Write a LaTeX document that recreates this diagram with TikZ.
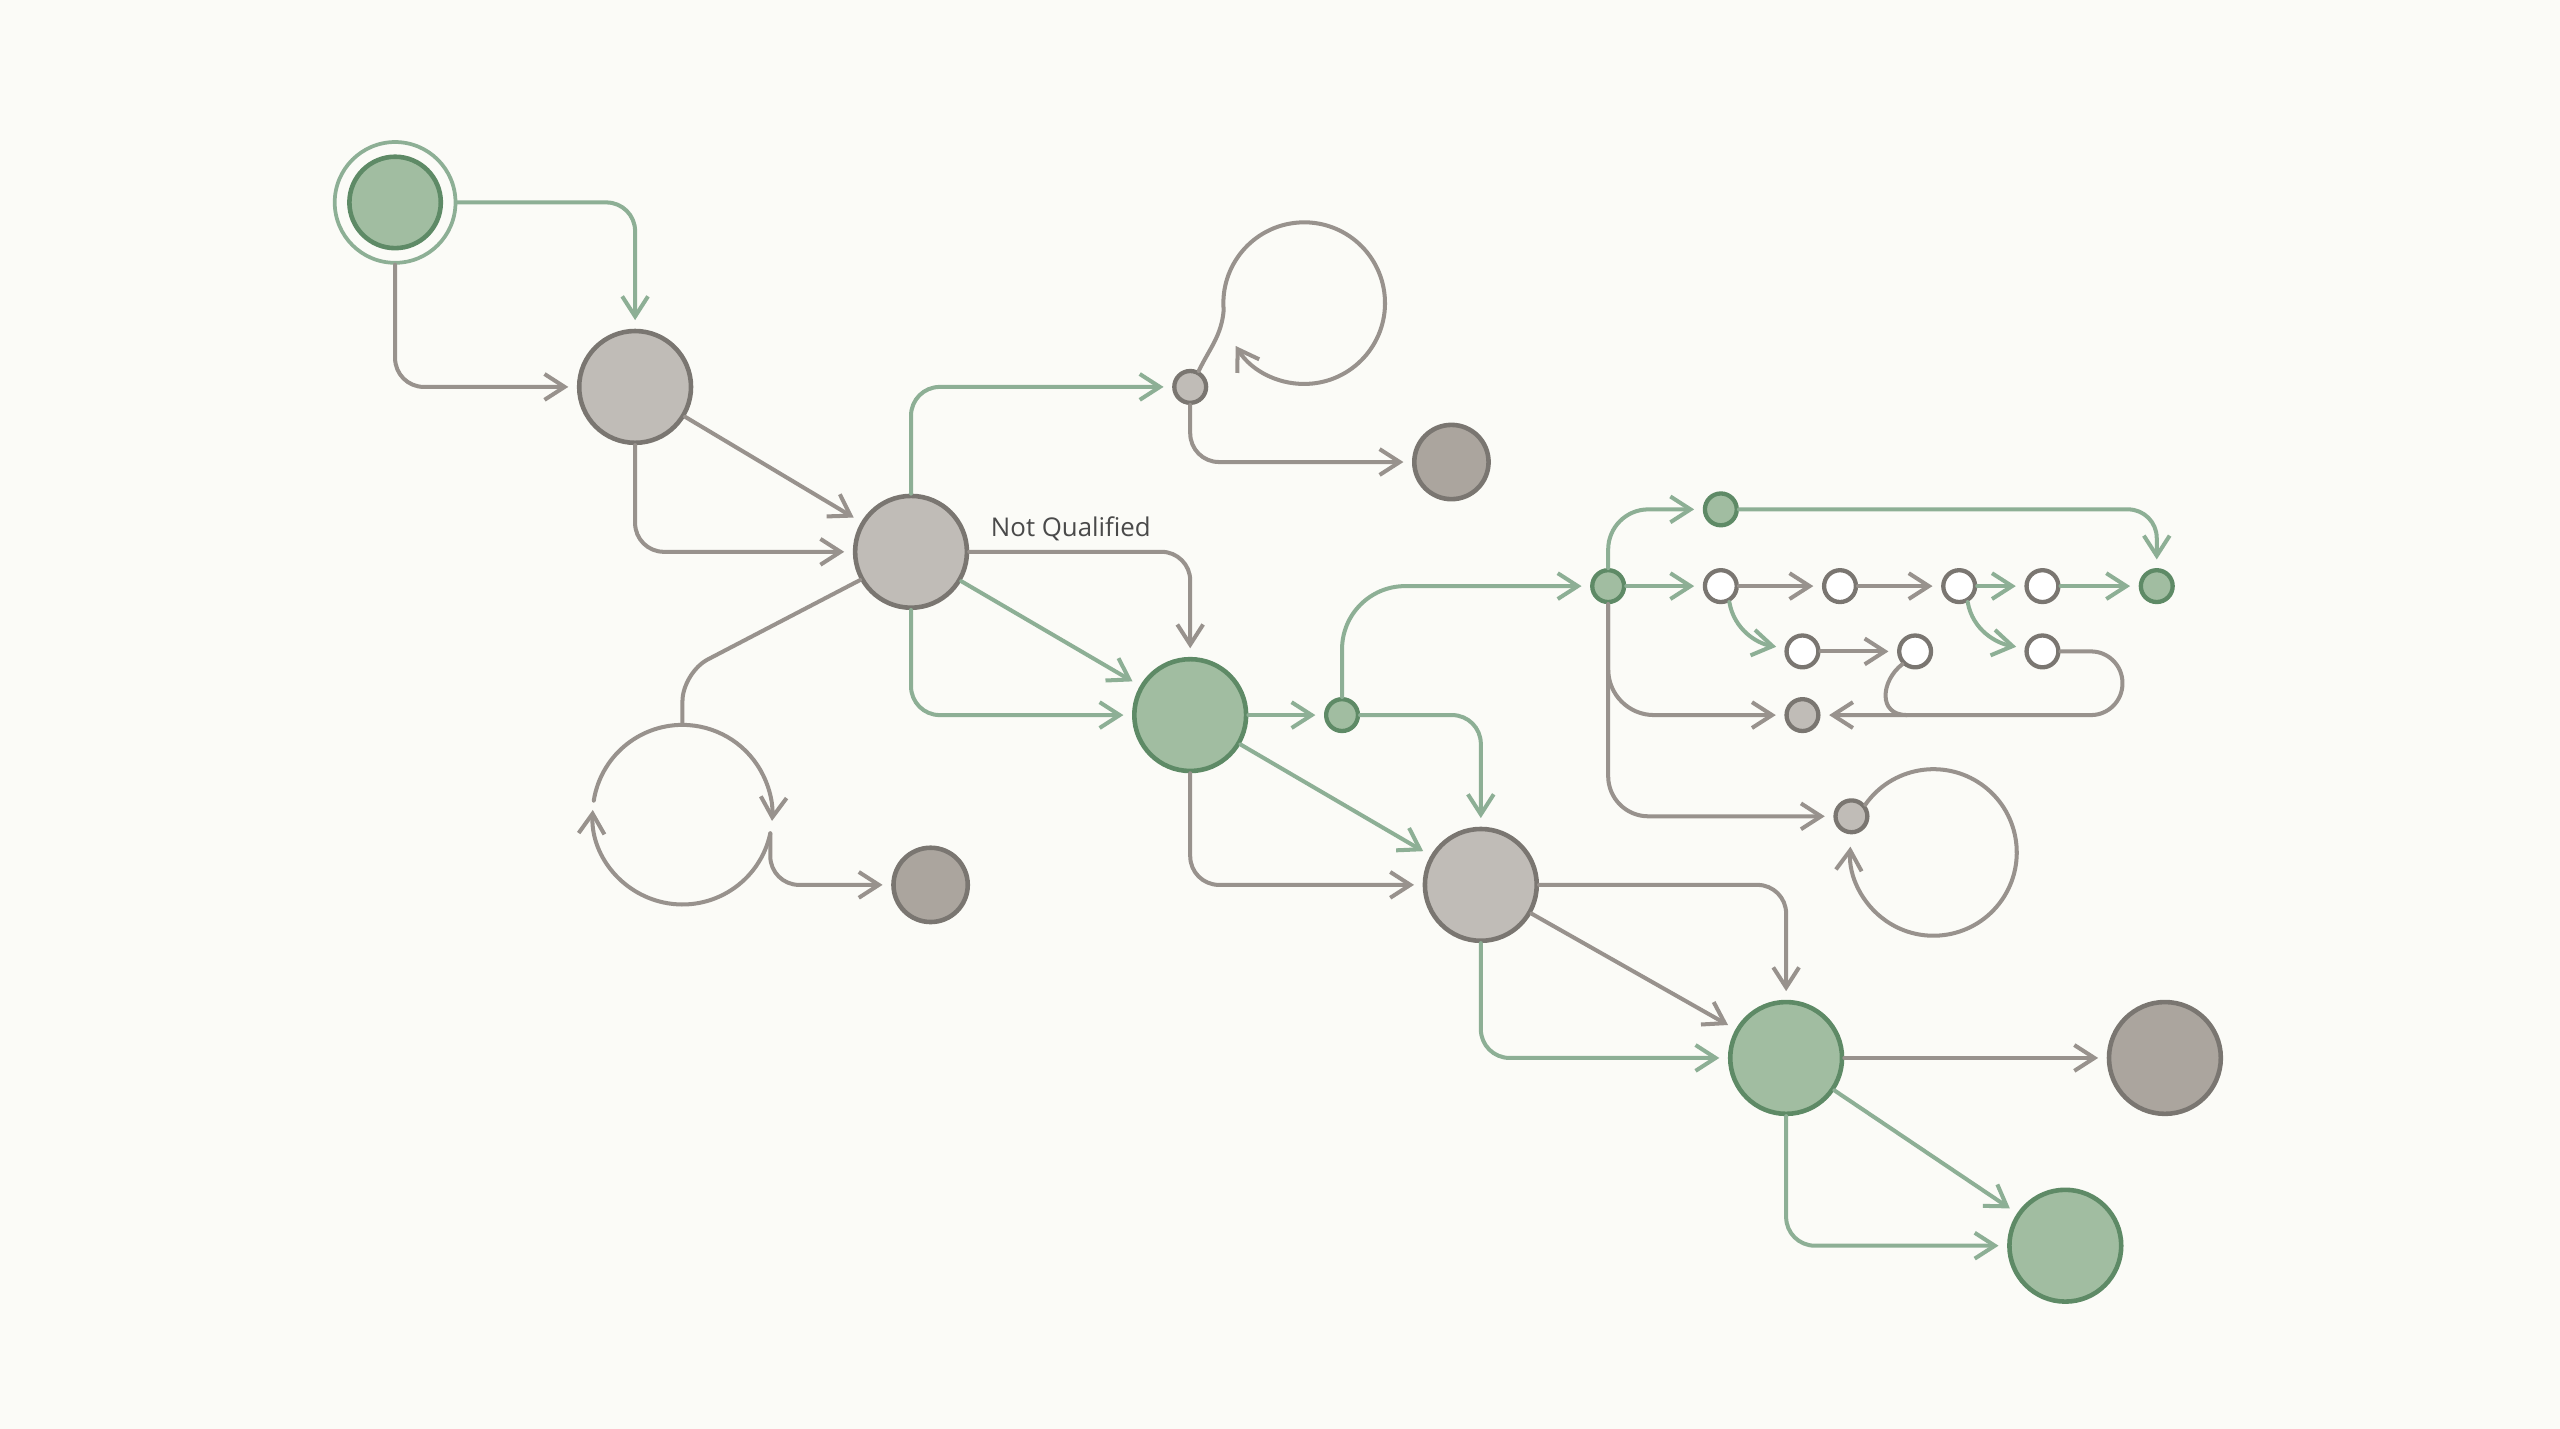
\documentclass[tikz,border=0pt]{standalone}
\usepackage{fontspec}
\setsansfont{Open Sans}
\usetikzlibrary{positioning,calc,arrows.meta}
\definecolor{bgcol}{HTML}{FBFBF7}
\definecolor{gfillc}{HTML}{A1BDA1}
\definecolor{gdrawc}{HTML}{5E8A66}
\definecolor{glinec}{HTML}{8DAF95}
\definecolor{nfillc}{HTML}{C0BCB7}
\definecolor{ndrawc}{HTML}{7A7671}
\definecolor{dfillc}{HTML}{ABA59E}
\definecolor{nlinec}{HTML}{98928D}
\definecolor{txtc}{HTML}{4A4A4A}
\tikzset{gbig/.style={draw=gdrawc,circle,fill=gfillc,line width=1.6pt,minimum size=1.37cm,inner sep=0pt}  }
\tikzset{nbig/.style={draw=ndrawc,circle,fill=nfillc,line width=1.6pt,minimum size=1.37cm,inner sep=0pt}  }
\tikzset{dbig/.style={draw=ndrawc,circle,fill=dfillc,line width=1.6pt,minimum size=1.37cm,inner sep=0pt}  }
\tikzset{dmid/.style={dbig,minimum size=0.91cm}  }
\tikzset{ring/.style={draw=glinec,circle,fill=bgcol,line width=1.3pt,minimum size=1.48cm,inner sep=0pt}  }
\tikzset{gvert/.style={draw=gdrawc,circle,fill=gfillc,line width=1.5pt,minimum size=0.39cm,inner sep=0pt}  }
\tikzset{nvert/.style={draw=ndrawc,circle,fill=nfillc,line width=1.5pt,minimum size=0.39cm,inner sep=0pt}  }
\tikzset{wvert/.style={draw=ndrawc,circle,fill=white,line width=1.5pt,minimum size=0.39cm,inner sep=0pt}  }
\tikzset{gedge/.style={draw=glinec,line width=1.4pt,rounded corners=10pt,shorten >=3pt}  }
\tikzset{nedge/.style={draw=nlinec,line width=1.4pt,rounded corners=10pt,shorten >=3pt}  }
\tikzset{lbl/.style={font=\sffamily\fontsize{9}{10}\selectfont,text=txtc,inner sep=0pt}  }
\tikzset{>={Straight Barb[length=7pt,width=9pt]}}

\begin{document}
\begin{tikzpicture}[x=0.02cm,y=0.02cm,line cap=round,line join=round]
	\fill[bgcol] (0,0) rectangle (1568,875);
	\useasboundingbox (0,0) rectangle (1568,875);

		\node[ring] (start) at (242,751) {};
		\node[gbig,minimum size=1.12cm] (startin) at (start) {};
		\node[nbig] (qual) at (389,638) {};
		\node[nbig] (review) at (558,537) {};
		\node[nvert] (hold) at (729,638) {};
		\node[dmid] (drop) at (889,592) {};
		\node[dmid] (lost) at (570,333) {};
		\node[gbig] (accept) at (729,437) {};
		\node[gvert] (fork) at (822,437) {};
		\node[nbig] (check) at (907,333) {};
		\node[gbig] (approve) at (1094,227) {};
		\node[dbig] (reject) at (1326,227) {};
		\node[gbig] (done) at (1265,112) {};

		\node[gvert] (split) at (985,516) {};
		\node[gvert] (fast) at (1054,563) {};
		\node[wvert] (s1) at (1054,516) {};
		\node[wvert] (s2) at (1127,516) {};
		\node[wvert] (s3) at (1200,516) {};
		\node[wvert] (s4) at (1251,516) {};
		\node[gvert] (join) at (1321,516) {};
		\node[wvert] (t1) at (1104,476) {};
		\node[wvert] (t2) at (1173,476) {};
		\node[wvert] (t3) at (1251,476) {};
		\node[nvert] (fail) at (1104,437) {};
		\node[nvert] (wait) at (1134,375) {};

		\coordinate (lp) at (418,376);
		\coordinate (hp) at (799,689);
		\coordinate (rt) at (1300,437);
		\coordinate (mj) at (1168,437);

	% main line
	\draw[gedge,->] (start) -| (qual);
	\draw[nedge,->] (start) |- (qual);
	\draw[nedge,->] (qual) -- (review);
	\draw[nedge,->] (qual) |- (review);
	\draw[gedge,->] (review) |- (hold);
	\draw[nedge,->] (hold) |- (drop);
	\draw[nedge,->,sharp corners,shorten >=0pt] (hold.62) to[out=64,in=-95] ($(hp)+(-49.5,-4)$)
		arc[start angle=185,end angle=-148,radius=49.5];
	\draw[nedge,->] (review) -| node[lbl,pos=0.23,above=3pt] {Not Qualified} (accept);
	\draw[gedge,->] (review) -- (accept);
	\draw[gedge,->] (review) |- (accept);

	\draw[nedge,shorten >=0pt] (review.209) -- (418,463) -- ($(lp)+(0,55)$);
	\draw[nedge,->,shorten >=0pt] ($(lp)+(0,55)$) arc[start angle=90,end angle=-4,radius=55];
	\draw[nedge,->,shorten >=0pt] ($(lp)+(-12:55)$) arc[start angle=-12,end angle=-183,radius=55];
	\draw[nedge,shorten >=0pt] ($(lp)+(171:55)$) arc[start angle=171,end angle=90,radius=55];
	\draw[nedge,->] ($(lp)+(-12:55)$) |- (lost);

	\draw[gedge,->] (accept) -- (fork);
	\draw[gedge,->] (accept) -- (check);
	\draw[nedge,->] (accept) |- (check);
	\draw[gedge,->] (fork) -| (check);
	\draw[gedge,->,rounded corners=22pt] (fork) |- (split);
	\draw[nedge,->] (check) -| (approve);
	\draw[nedge,->] (check) -- (approve);
	\draw[gedge,->] (check) |- (approve);
	\draw[nedge,->] (approve) -- (reject);
	\draw[gedge,->] (approve) -- (done);
	\draw[gedge,->] (approve) |- (done);

	% parallel branch
	\draw[gedge,->,rounded corners=14pt] (split) |- (fast);
	\draw[gedge,->] (fast) -| (join);
	\draw[gedge,->] (split) -- (s1);
	\draw[nedge,->] (s1) -- (s2);
	\draw[nedge,->] (s2) -- (s3);
	\draw[gedge,->] (s3) -- (s4);
	\draw[gedge,->] (s4) -- (join);
	\draw[gedge,->] (s1.-62) to[out=-80,in=170] (t1);
	\draw[nedge,->] (t1) -- (t2);
	\draw[gedge,->] (s3.-62) to[out=-80,in=170] (t3);
	\draw[nedge,->,rounded corners=11pt] (t3) -| (rt) -- (fail);
	\draw[nedge,shorten >=0pt] (t2.225) .. controls (1152,458) and (1150,437) .. (mj);
	\draw[nedge,->,rounded corners=16pt] (split) |- (fail);
	\draw[nedge,->,rounded corners=14pt] (split) |- (wait);
	\draw[nedge,->,shorten >=0pt] (wait.40) arc[start angle=145,end angle=-184,radius=51];
\end{tikzpicture}
\end{document}
